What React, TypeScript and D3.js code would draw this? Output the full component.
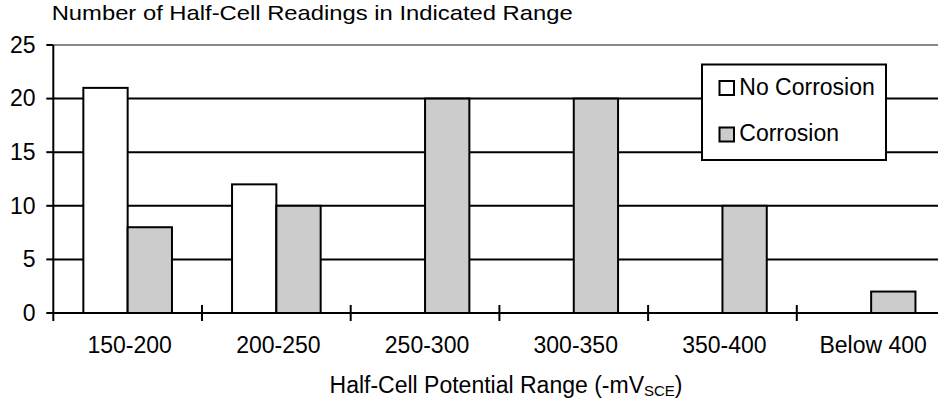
import React from "react";
import * as d3 from "d3";

const categories = ["150-200", "200-250", "250-300", "300-350", "350-400", "Below 400"];
const seriesNames = ["No Corrosion", "Corrosion"];
const noCorrosion = [21, 12, 0, 0, 0, 0];
const corrosion = [8, 10, 20, 20, 10, 2];
const yTicks = [0, 5, 10, 15, 20, 25];
const seriesColors = ["#ffffff", "#cccccc"];

const W = 938;
const H = 400;
const FONT = "'Liberation Sans', Arial, Helvetica, sans-serif";
const FS = 23;

export default function App() {
  const left = 53.3;
  const right = 945.5;
  const top = 45;
  const bottom = 313;

  const x = d3.scaleBand<string>().domain(categories).range([left, right]).padding(0);
  const xs = d3
    .scaleBand<string>()
    .domain(seriesNames)
    .range([0, x.bandwidth()])
    .paddingInner(0)
    .paddingOuter(0.678);
  const y = d3.scaleLinear().domain([0, 25]).range([bottom, top]);

  const data = [noCorrosion, corrosion];

  return (
    <svg
      width={W}
      height={H}
      style={{ position: "absolute", left: 0, top: 0, background: "#fff" }}
      fontFamily={FONT}
    >
      {/* title */}
      <text
        x={51.7}
        y={20}
        fontSize={21}
        fill="#000"
        textLength={521}
        lengthAdjust="spacingAndGlyphs"
      >
        Number of Half-Cell Readings in Indicated Range
      </text>

      {/* gridlines */}
      {yTicks.slice(1).map((t) => (
        <line
          key={"g" + t}
          x1={left}
          x2={W}
          y1={y(t)}
          y2={y(t)}
          stroke={t === 25 ? "#888888" : "#000"}
          strokeWidth={2}
        />
      ))}

      {/* bars */}
      {categories.map((c, i) =>
        seriesNames.map((s, j) => {
          const v = data[j][i];
          if (v <= 0) return null;
          return (
            <rect
              key={c + s}
              x={(x(c) as number) + (xs(s) as number)}
              y={y(v)}
              width={xs.bandwidth()}
              height={y(0) - y(v)}
              fill={seriesColors[j]}
              stroke="#000"
              strokeWidth={2}
            />
          );
        })
      )}

      {/* y axis */}
      <line x1={left} x2={left} y1={top} y2={bottom + 8} stroke="#000" strokeWidth={2} />
      {yTicks.map((t) => (
        <g key={"yt" + t}>
          <line x1={left - 7} x2={left} y1={y(t)} y2={y(t)} stroke="#000" strokeWidth={2} />
          <text
            x={35.5}
            y={y(t)}
            dy="0.34em"
            textAnchor="end"
            fontSize={FS}
            fill="#000"
          >
            {t}
          </text>
        </g>
      ))}

      {/* x axis */}
      <line x1={left} x2={W} y1={bottom} y2={bottom} stroke="#000" strokeWidth={2} />
      {categories.slice(1).map((c) => (
        <line
          key={"xt" + c}
          x1={x(c) as number}
          x2={x(c) as number}
          y1={bottom - 8}
          y2={bottom + 8}
          stroke="#000"
          strokeWidth={2}
        />
      ))}
      {categories.map((c) => (
        <text
          key={"xl" + c}
          x={(x(c) as number) + x.bandwidth() / 2 + 2}
          y={352.7}
          textAnchor="middle"
          fontSize={FS}
          fill="#000"
        >
          {c}
        </text>
      ))}

      {/* x axis title */}
      <text x={506} y={393.3} textAnchor="middle" fontSize={FS} fill="#000">
        Half-Cell Potential Range (-mV
        <tspan fontSize={15} dy={3}>SCE</tspan>
        <tspan dy={-3}>)</tspan>
      </text>

      {/* legend */}
      <rect x={702} y={64.5} width={184} height={95.5} fill="#fff" stroke="#000" strokeWidth={2} />
      {seriesNames.map((s, j) => (
        <g key={"lg" + s} transform={`translate(0, ${j * 46.5})`}>
          <rect
            x={719.5}
            y={81}
            width={14.5}
            height={14}
            fill={seriesColors[j]}
            stroke="#000"
            strokeWidth={2}
          />
          <text x={739.3} y={94.5} fontSize={FS} fill="#000">
            {s}
          </text>
        </g>
      ))}
    </svg>
  );
}
